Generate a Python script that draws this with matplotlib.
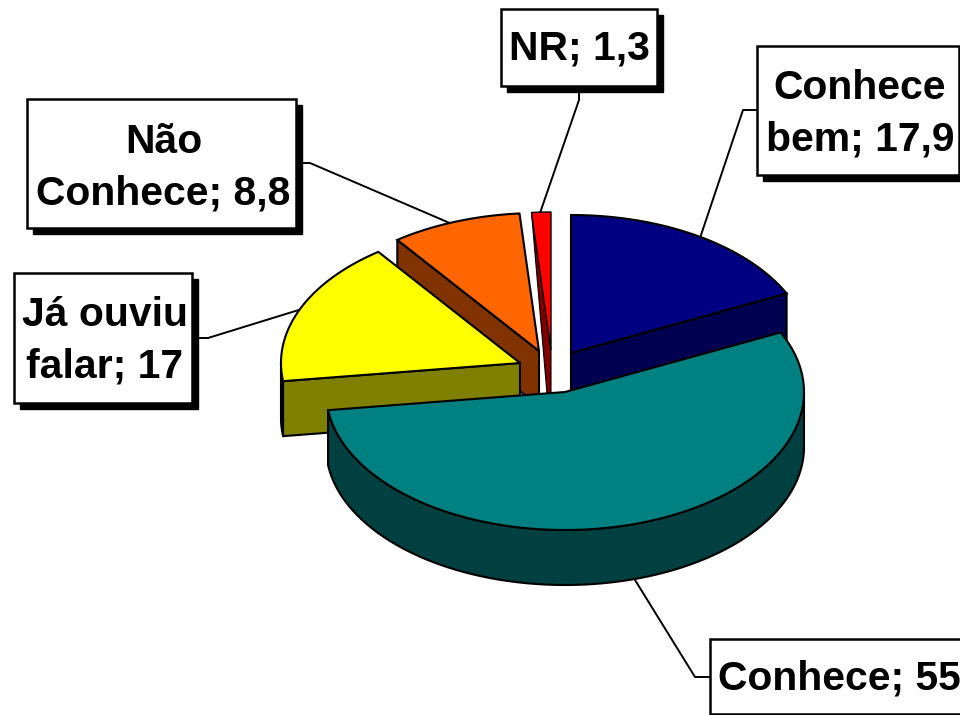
import numpy as np
import matplotlib
matplotlib.use('Agg')
import matplotlib.pyplot as plt
from matplotlib.patches import Polygon, Rectangle

# slices, clockwise from 12 o'clock
categories = ['Conhece bem', 'Conhece', 'Já ouviu falar', 'Não Conhece', 'NR']
values = [17.9, 55, 17, 8.8, 1.3]
value_labels = ['17,9', '55', '17', '8,8', '1,3']
label_texts = ['Conhece\nbem; 17,9', 'Conhece; 55', 'Já ouviu\nfalar; 17', 'Não\nConhece; 8,8', 'NR; 1,3']

top_colors = ['#000080', '#008080', '#FFFF00', '#FF6600', '#FF0000']
side_colors = ['#000050', '#004040', '#808000', '#803300', '#800000']

# layout, in pixels of the picture
rx, ry, depth = 239, 138, 55
apex = [(571, 353), (565, 392), (520, 363), (539, 351), (551, 350)]
boxes = [(757, 46, 959, 175), (710, 639, 972, 714), (14, 273, 192, 403), (27, 99, 296, 228), (501, 9, 657, 86)]
text_shift = [(2, 3), (-2, 2), (2, 3), (2, 4), (0, 1)]
leaders = [
    [(757, 110), (743, 110), (700, 238)],
    [(710, 677), (695, 677), (635, 580)],
    [(192, 338), (208, 338), (302, 309)],
    [(296, 163), (310, 163), (452, 224)],
    [(579, 86), (579, 100), (540, 213)],
]
draw_order = [4, 3, 0, 2, 1]

edges = np.cumsum([0] + values) * 3.6


def rim(c, a0, a1, n=200):
    a = np.radians(np.linspace(a0, a1, n))
    return np.column_stack([c[0] + rx * np.sin(a), c[1] - ry * np.cos(a)])


fig = plt.figure(figsize=(9.6, 7.15), dpi=100)
ax = fig.add_axes([0, 0, 1, 1])
ax.set_xlim(0, 960)
ax.set_ylim(715, 0)
ax.axis('off')

lw = 1.5
down = np.array([0, depth])

# leaders go under the pie
for pts in leaders:
    xs, ys = zip(*pts)
    ax.plot(xs, ys, color='black', lw=1.4, zorder=1)

z = 2
for i in draw_order:
    c = np.array(apex[i], dtype=float)
    a0, a1 = edges[i], edges[i + 1]
    rim_pts = rim(c, a0, a1)

    # outer wall, only the part that faces the viewer
    lo, hi = max(a0, 90), min(a1, 270)
    if lo < hi:
        arc = rim(c, lo, hi)
        wall = np.vstack([arc, (arc + down)[::-1]])
        ax.add_patch(Polygon(wall, fc=side_colors[i], ec='black', lw=lw, zorder=z))

    # cut faces
    if i == 4:
        # the thin slice only shows a sliver
        cut = np.array([rim_pts[0], c, c + down, c + down - (3, 0)])
        ax.add_patch(Polygon(cut, fc=side_colors[i], ec='black', lw=0.8, zorder=z))
    elif a1 <= 90:
        p = rim_pts[-1]
        cut = np.array([c, p, p + down, c + down])
        ax.add_patch(Polygon(cut, fc=side_colors[i], ec='black', lw=lw, zorder=z))
    elif a0 >= 180:
        p = rim_pts[0]
        cut = np.array([c, p, p + down, c + down])
        ax.add_patch(Polygon(cut, fc=side_colors[i], ec='black', lw=lw, zorder=z))

    top_lw = 1.0 if i == 4 else lw
    ax.add_patch(Polygon(np.vstack([c, rim_pts]), fc=top_colors[i], ec='black', lw=top_lw, zorder=z + 0.5))
    z += 1

# label boxes with hard shadow
for txt, (x0, y0, x1, y1), (dx, dy) in zip(label_texts, boxes, text_shift):
    ax.add_patch(Rectangle((x0 + 6, y0 + 6), x1 - x0, y1 - y0, fc='black', ec='black', lw=1, zorder=20))
    ax.add_patch(Rectangle((x0, y0), x1 - x0, y1 - y0, fc='white', ec='black', lw=1.8, zorder=21))
    ax.text((x0 + x1) / 2 + dx, (y0 + y1) / 2 + dy, txt, ha='center', va='center', family='Liberation Sans',
            fontweight='bold', fontsize=29.4, linespacing=1.46, color='black', zorder=22)

fig.savefig('out.png', dpi=100, facecolor='white')
